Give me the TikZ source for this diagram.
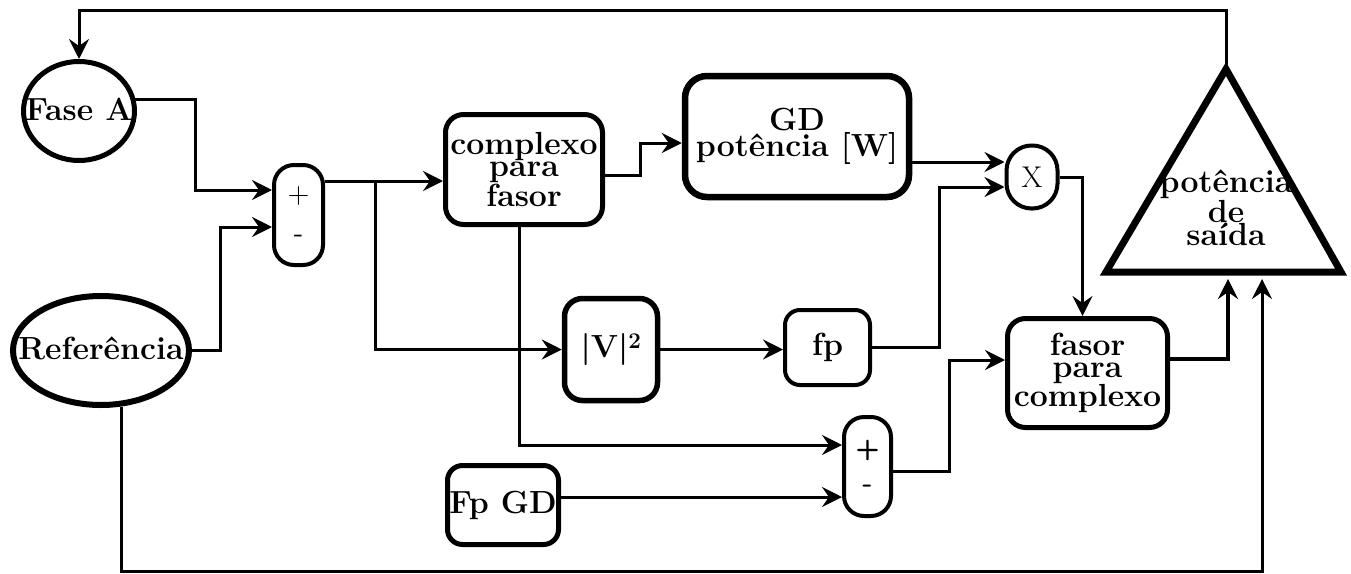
\documentclass[tikz,border=0pt]{standalone}
\usetikzlibrary{arrows.meta,shapes.geometric}
\begin{document}
\begin{tikzpicture}[x=1pt,y=-1pt,
  conn/.style={draw,line width=3pt,-{Stealth[length=20pt,width=20pt,inset=7pt]}},
  blk/.style={draw,rounded corners=18pt,inner sep=0pt,align=center,
    font=\fontsize{32}{22}\selectfont\bfseries},
  sumblk/.style={draw,rounded corners=20pt,inner sep=0pt,line width=4pt,align=center,
    minimum width=49pt,minimum height=100pt,font=\fontsize{30}{39}\selectfont\sffamily},
  oval/.style={draw,ellipse,inner sep=0pt},
  lbl/.style={inner sep=0pt,align=center,font=\fontsize{32}{22}\selectfont\bfseries}
]
\useasboundingbox (0,0) rectangle (1351,573);

% nodes
\node[oval,line width=5pt,minimum width=111pt,minimum height=99pt] (faseA) at (79,111) {};
\node[lbl] (faseAT) at (79,109) {Fase A};
\node[oval,line width=6pt,minimum width=176pt,minimum height=109pt] (ref) at (101,350.5) {};
\node[lbl] (refT) at (101,348) {Referência};

\node[sumblk] (sum1) at (298.5,215) {+\\-};
\node[sumblk,minimum width=47pt,minimum height=99pt,font=\fontsize{28}{35}\selectfont\sffamily\bfseries] (sum2) at (867.5,466.5) {+\\-};

\node[blk,line width=5pt,minimum width=157pt,minimum height=110pt] (cpx) at (524,169.5) {complexo\\para\\fasor};
\node[blk,line width=6.5pt,minimum width=224pt,minimum height=121pt,rounded corners=22pt] (GD) at (797,136.5) {GD\\potência [W]};
\node[draw,line width=4pt,rounded corners=25pt,inner sep=0pt,minimum width=51pt,minimum height=63pt,
  font=\fontsize{30}{30}\selectfont] (X) at (1032,177) {X};
\node[blk,line width=5pt,minimum width=160pt,minimum height=109pt] (fasor) at (1087.5,373) {fasor\\para\\complexo};
\node[blk,line width=5.5pt,minimum width=93pt,minimum height=102pt] (V2) at (611,349.5) {|V|\textsuperscript{2}};
\node[blk,line width=4pt,minimum width=85pt,minimum height=75pt,rounded corners=15pt] (fp) at (827.5,347.5) {fp};
\node[blk,line width=5pt,minimum width=111pt,minimum height=79pt,rounded corners=15pt] (FpGD) at (503,505) {Fp GD};

% output triangle
\coordinate (triTop) at (1226,69);
\coordinate (triL) at (1106,272);
\coordinate (triR) at (1341,272);
\draw[line width=7pt,line join=miter] (triL) -- (triTop) -- (triR) -- cycle;
\node[lbl] (outT) at (1226,208) {potência\\de\\saída};
\coordinate (triB1) at (1228,279);
\coordinate (triB2) at (1262,279);

% connectors
\draw[conn] (triTop) -- (1226,10) -| (faseA.north);
\draw[conn] (faseA.12) -| (195,190) -- ([yshift=25pt]sum1.west);
\draw[conn] (ref.east) -| (220,227) -- ([yshift=-12pt]sum1.west);
\draw[conn] ([yshift=34pt]sum1.east) -- ([yshift=-11.5pt]cpx.west);
\coordinate (br1) at (375,181);
\draw[conn] (br1) |- (V2.west);
\draw[conn] ([yshift=-5.5pt]cpx.east) -| (640,143) -- ([yshift=-6.5pt]GD.west);
\draw[conn] ([yshift=-25.5pt]GD.east) -- ([yshift=15pt]X.west);
\draw[conn] (V2.east) -- (V2.east -| fp.west);
\draw[conn] (fp.east) -| (939,187) -- ([yshift=-10pt]X.west);
\draw[conn] (X.east) -| ([xshift=-5pt]fasor.north);
\draw[conn] ([xshift=-5pt]cpx.south) |- ([yshift=21.5pt]sum2.west);
\draw[conn] ([yshift=8pt]FpGD.east) -- ([yshift=-30.5pt]sum2.west);
\draw[conn] ([yshift=-4.5pt]sum2.east) -| (949,360) -- ([yshift=13pt]fasor.west);
\draw[conn,line width=3.6pt] ([yshift=14pt]fasor.east) -| (triB1);
\draw[conn] (ref.-70) |- (1262,571) -- (triB2);
\end{tikzpicture}
\end{document}
